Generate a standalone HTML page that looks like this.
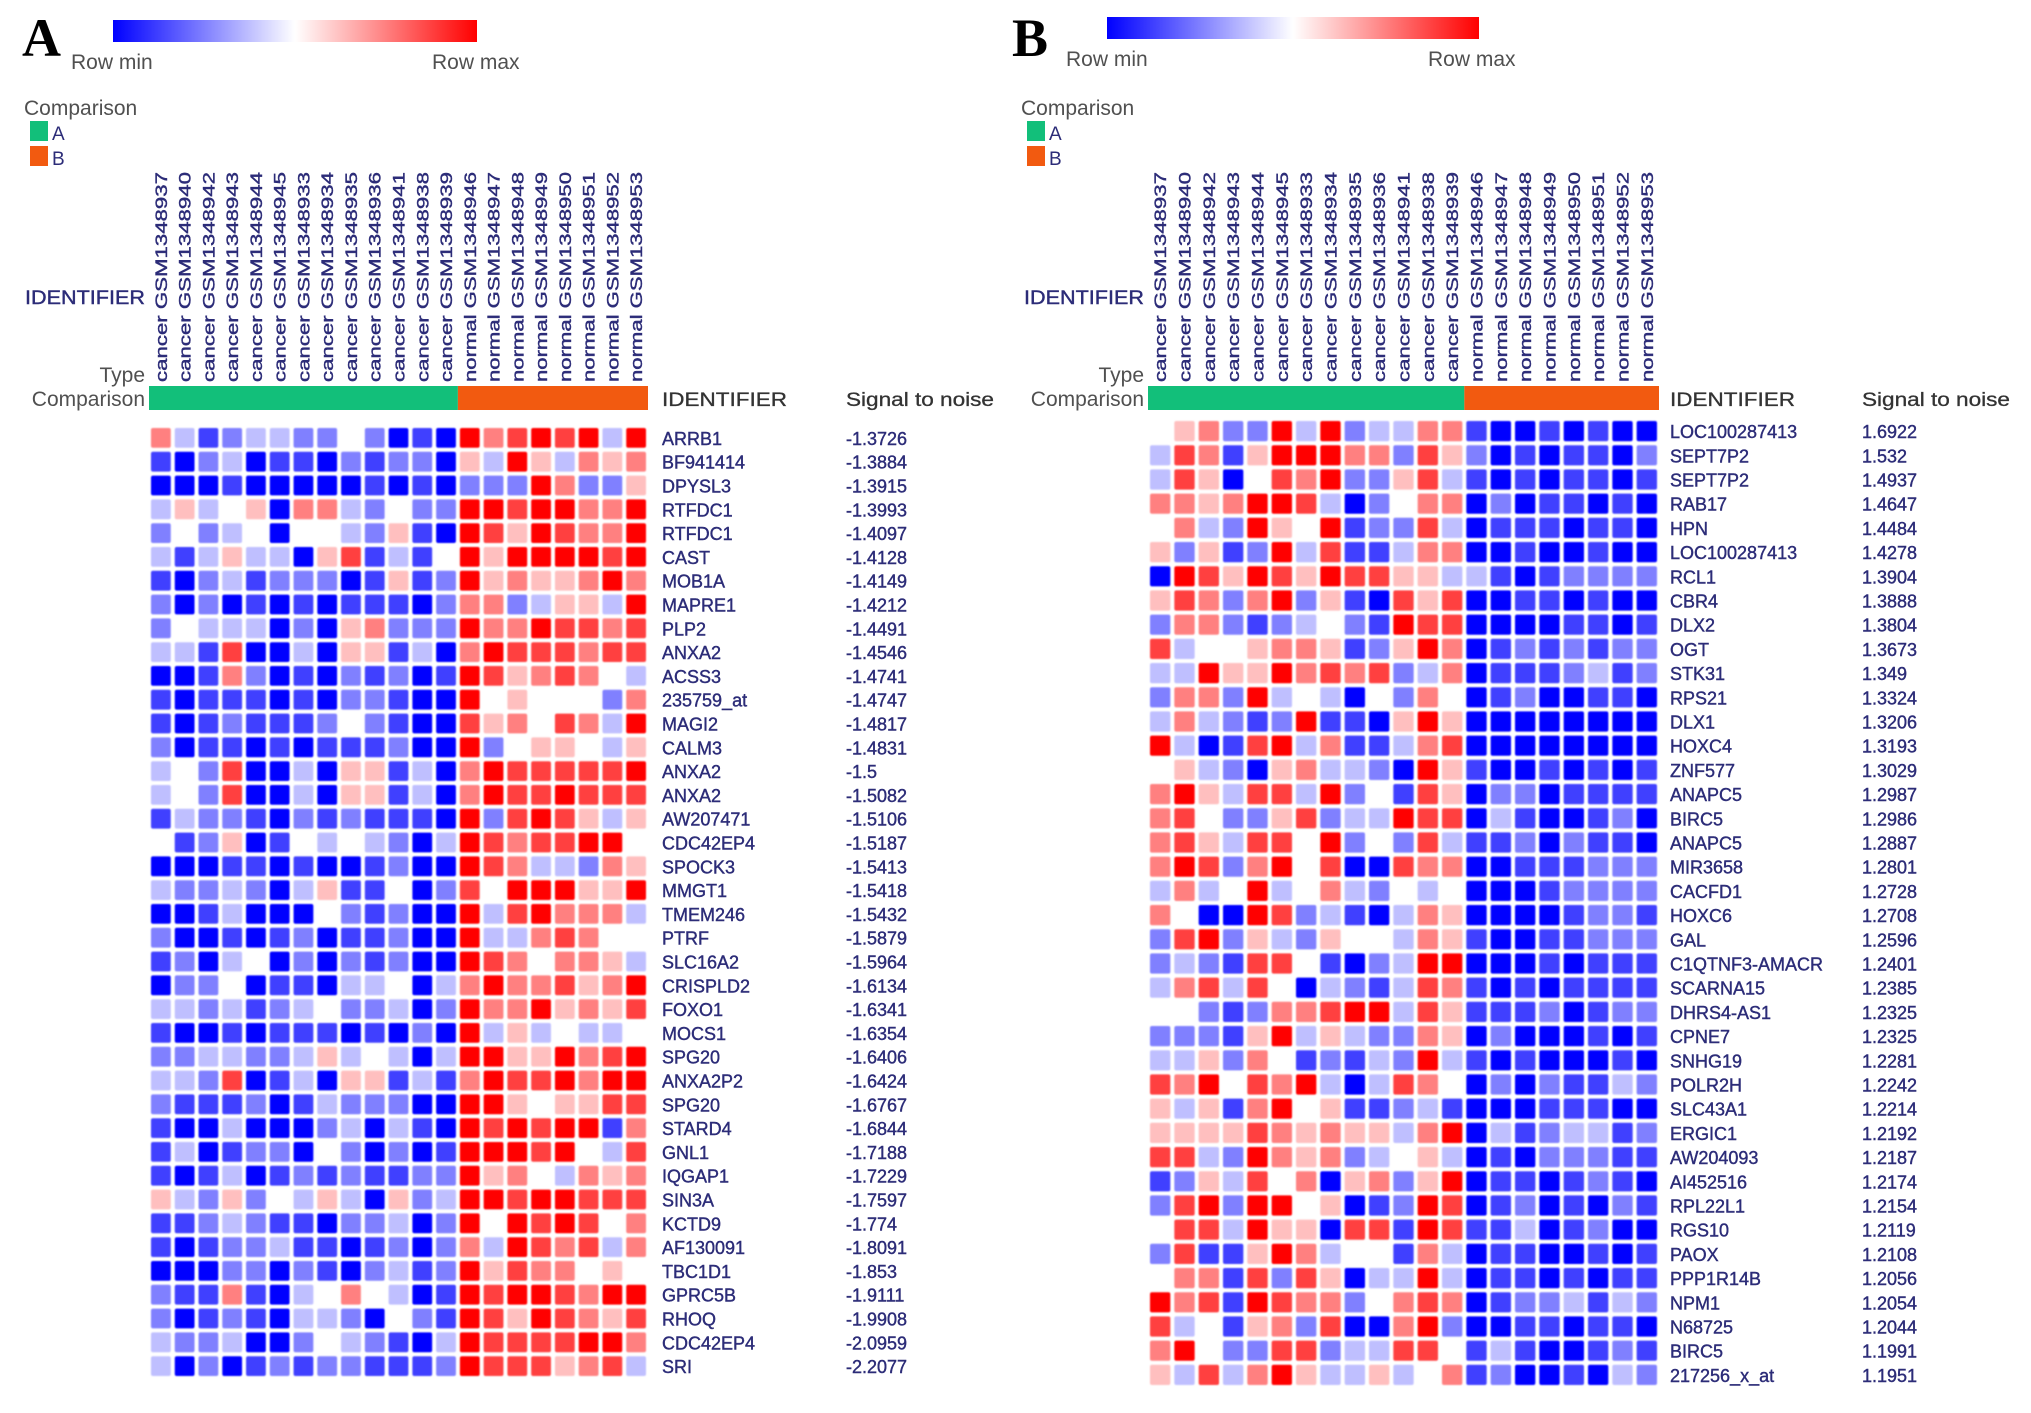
<!DOCTYPE html>
<html><head><meta charset="utf-8"><style>
html,body{margin:0;padding:0;background:#fff;}
svg{display:block;font-family:"Liberation Sans",sans-serif;}
</style></head><body>
<svg id="fig" width="2031" height="1413" viewBox="0 0 2031 1413" xmlns="http://www.w3.org/2000/svg">
<defs>
<linearGradient id="cg" x1="0" x2="1" y1="0" y2="0">
<stop offset="0" stop-color="#0000ff"/><stop offset="0.5" stop-color="#ffffff"/><stop offset="1" stop-color="#ff0000"/>
</linearGradient>
<filter id="soft" x="-5%" y="-5%" width="110%" height="110%"><feGaussianBlur stdDeviation="0.8"/></filter>
</defs>
<rect width="2031" height="1413" fill="#fff"/>
</svg>
<script>
const sampleTypes = ["cancer","cancer","cancer","cancer","cancer","cancer","cancer","cancer","cancer","cancer","cancer","cancer","cancer","normal","normal","normal","normal","normal","normal","normal","normal"];
const sampleIds = ["GSM1348937","GSM1348940","GSM1348942","GSM1348943","GSM1348944","GSM1348945","GSM1348933","GSM1348934","GSM1348935","GSM1348936","GSM1348941","GSM1348938","GSM1348939","GSM1348946","GSM1348947","GSM1348948","GSM1348949","GSM1348950","GSM1348951","GSM1348952","GSM1348953"];

const aGenes = ["ARRB1","BF941414","DPYSL3","RTFDC1","RTFDC1","CAST","MOB1A","MAPRE1","PLP2","ANXA2","ACSS3","235759_at","MAGI2","CALM3","ANXA2","ANXA2","AW207471","CDC42EP4","SPOCK3","MMGT1","TMEM246","PTRF","SLC16A2","CRISPLD2","FOXO1","MOCS1","SPG20","ANXA2P2","SPG20","STARD4","GNL1","IQGAP1","SIN3A","KCTD9","AF130091","TBC1D1","GPRC5B","RHOQ","CDC42EP4","SRI"];
const aScores = ["-1.3726","-1.3884","-1.3915","-1.3993","-1.4097","-1.4128","-1.4149","-1.4212","-1.4491","-1.4546","-1.4741","-1.4747","-1.4817","-1.4831","-1.5","-1.5082","-1.5106","-1.5187","-1.5413","-1.5418","-1.5432","-1.5879","-1.5964","-1.6134","-1.6341","-1.6354","-1.6406","-1.6424","-1.6767","-1.6844","-1.7188","-1.7229","-1.7597","-1.774","-1.8091","-1.853","-1.9111","-1.9908","-2.0959","-2.2077"];
const aValues = [
[2,-1,-3,-2,-1,-1,-2,-2,0,-2,-4,-3,-4,4,2,3,4,3,4,-1,4],
[-3,-4,-2,-1,-4,-3,-3,-4,-2,-3,-2,-2,-4,1,-1,4,1,-1,2,1,2],
[-4,-4,-4,-3,-4,-4,-4,-4,-4,-3,-4,-3,-4,-2,-2,-2,4,2,-2,-2,1],
[-1,1,-1,0,1,-4,2,2,-1,-2,0,-2,-2,4,4,3,4,4,2,2,4],
[-2,0,-2,-1,0,-4,0,0,-1,-2,1,-3,-4,4,3,1,4,3,2,2,4],
[-1,-3,-1,1,-1,-1,-4,1,3,-3,-1,-3,0,4,1,4,4,4,4,3,4],
[-3,-4,-2,-1,-3,-2,-2,-2,-4,-3,1,-3,-2,4,1,2,1,1,2,4,2],
[-2,-4,-2,-4,-3,-4,-3,-4,-3,-3,-3,-4,-2,2,2,-2,-1,1,1,-1,4],
[-2,0,-1,-1,-1,-4,-2,-4,1,2,-2,-2,-2,4,2,2,4,3,3,2,3],
[-1,-1,-3,3,-4,-4,-1,-4,1,1,-3,-1,-4,2,4,3,3,3,2,3,3],
[-4,-4,-3,2,-2,-4,-3,-4,-2,-3,-2,-4,-3,4,3,1,2,3,2,0,-1],
[-3,-4,-3,-3,-3,-4,-3,-4,-2,-2,-3,-4,-4,4,0,1,0,0,0,-2,2],
[-3,-4,-3,-2,-3,-3,-3,-2,0,-2,-3,-4,-4,3,1,2,0,3,2,-1,4],
[-2,-4,-3,-3,-4,-3,-4,-3,-3,-3,-2,-4,-4,4,-2,0,1,1,0,-1,1],
[-1,0,-2,3,-4,-4,-1,-4,1,1,-3,-1,-4,2,4,3,3,3,3,3,4],
[-1,0,-2,3,-4,-4,-1,-4,1,1,-3,-1,-4,2,4,3,3,4,3,3,3],
[-3,-1,-2,-2,-3,-4,-2,-3,-2,-3,-3,-3,-4,4,-2,3,4,3,1,-1,1],
[0,-3,-2,1,-4,-3,0,-1,0,-1,-2,-4,-1,4,3,2,3,3,4,4,0],
[-4,-4,-4,-3,-3,-4,-3,-4,-4,-3,-2,-4,-4,4,3,2,-1,-1,-2,2,1],
[-1,-2,-2,-1,-2,-4,-1,1,-3,-3,0,-4,-2,3,0,4,4,4,1,1,4],
[-4,-4,-3,-1,-4,-4,-4,0,-2,-3,-2,-4,-4,4,-1,3,4,2,2,2,-1],
[-2,-4,-4,-3,-4,-3,-2,-4,-3,-3,-2,-4,-4,4,-1,-1,2,3,2,0,0],
[-3,-2,-4,-1,0,-4,-2,-4,-2,-3,-2,-4,-4,4,3,2,0,2,2,1,-1],
[-4,-2,-2,0,-4,-3,-3,-4,-1,-1,0,-4,-1,2,4,2,2,3,1,2,4],
[-1,-1,-2,-1,-3,-2,-1,0,-2,-2,-1,-4,-2,4,2,2,4,1,2,1,3],
[-3,-4,-4,-3,-4,-3,-3,-3,-4,-3,-4,-2,-4,4,-1,1,-1,0,-1,-1,0],
[-2,-2,-1,-1,-2,-2,-1,1,-1,0,-1,-4,-1,4,4,1,1,4,2,3,4],
[-1,-1,-2,3,-4,-3,-1,-4,1,1,-3,-1,-3,2,4,3,3,4,2,4,4],
[-2,-3,-3,-3,-2,-4,-3,-1,-2,-2,-2,-4,-4,4,4,1,0,1,1,3,3],
[-3,-4,-4,-1,-4,-4,-4,-2,-1,-4,-1,-3,-4,4,3,4,3,4,4,-3,2],
[-3,-1,-4,-3,-2,-2,-4,0,-2,-4,-2,-4,-3,4,4,4,3,4,0,-1,3],
[-3,-4,-3,-1,-4,-3,-2,-3,-2,-3,-3,-2,-2,4,1,2,0,-1,2,1,2],
[1,-1,-2,1,-2,0,-1,1,-1,-4,1,-2,-1,4,4,3,4,4,3,3,3],
[-3,-3,-2,-1,-2,-3,-3,-4,-2,-2,-1,-4,-2,4,0,4,3,4,3,0,2],
[-3,-4,-3,-2,-2,-1,-3,-3,-4,-3,-2,-4,-2,2,-1,4,3,2,3,-1,2],
[-4,-4,-4,-2,-2,-4,-2,-3,-4,-2,-1,-3,-2,4,1,3,2,2,0,1,0],
[-2,-3,-3,2,-3,-4,-1,0,2,0,-1,-4,-3,4,3,4,4,3,2,4,4],
[-2,-4,-3,-2,-3,-4,-1,-1,-2,-4,0,-2,-3,4,3,1,4,3,2,1,3],
[-1,-2,-2,-1,-4,-4,-2,0,-1,-2,-3,-4,-1,4,3,3,3,3,4,4,2],
[-1,-4,-2,-4,-3,-2,-3,-2,-2,-3,-3,-3,-2,4,3,3,3,1,2,3,-1]
];

const bGenes = ["LOC100287413","SEPT7P2","SEPT7P2","RAB17","HPN","LOC100287413","RCL1","CBR4","DLX2","OGT","STK31","RPS21","DLX1","HOXC4","ZNF577","ANAPC5","BIRC5","ANAPC5","MIR3658","CACFD1","HOXC6","GAL","C1QTNF3-AMACR","SCARNA15","DHRS4-AS1","CPNE7","SNHG19","POLR2H","SLC43A1","ERGIC1","AW204093","AI452516","RPL22L1","RGS10","PAOX","PPP1R14B","NPM1","N68725","BIRC5","217256_x_at"];
const bScores = ["1.6922","1.532","1.4937","1.4647","1.4484","1.4278","1.3904","1.3888","1.3804","1.3673","1.349","1.3324","1.3206","1.3193","1.3029","1.2987","1.2986","1.2887","1.2801","1.2728","1.2708","1.2596","1.2401","1.2385","1.2325","1.2325","1.2281","1.2242","1.2214","1.2192","1.2187","1.2174","1.2154","1.2119","1.2108","1.2056","1.2054","1.2044","1.1991","1.1951"];
const bValues = [
[0,1,2,-2,-2,4,-1,4,-2,-1,-1,2,2,-3,-4,-4,-3,-4,-3,-4,-4],
[-1,3,2,-3,1,4,4,4,2,2,-2,3,1,-2,-4,-3,-4,-3,-3,-4,-2],
[-1,3,1,-4,0,3,2,4,-2,-2,1,3,-1,-3,-4,-3,-4,-3,-3,-4,-3],
[2,2,1,2,4,4,3,-1,-4,-2,0,2,2,-4,-2,-4,-3,-3,-4,-3,-4],
[0,2,-1,-2,4,1,0,4,-3,-2,-2,3,-1,-4,-3,-3,-3,-4,-3,-3,-4],
[1,-2,1,-3,-2,4,-1,3,-3,-3,-1,2,2,-4,-4,-3,-4,-4,-3,-4,-4],
[-4,4,3,1,4,3,1,4,3,3,1,1,-1,-1,-3,-4,-3,-2,-2,-2,-2],
[1,3,2,-2,2,4,-2,1,-3,-4,3,1,3,-4,-4,-3,-3,-4,-3,-4,-4],
[-2,2,2,-2,-3,-2,-1,0,-2,-3,4,3,3,-4,-4,-4,-4,-3,-3,-4,-3],
[3,-1,0,0,1,2,2,1,-3,-2,1,4,2,-4,-3,-2,-3,-2,-3,-2,-2],
[-1,-1,4,1,1,4,2,3,2,3,-2,-1,2,-4,-3,-3,-3,-2,-1,-3,-2],
[-2,2,2,-2,4,-1,0,-1,-4,0,-2,2,0,-4,-3,-2,-4,-4,-3,-3,-4],
[-1,2,-1,-2,-3,-2,4,-3,-3,-4,1,4,1,-4,-4,-4,-4,-4,-4,-4,-4],
[4,-1,-4,-3,3,4,-1,2,-3,-3,-1,2,3,-4,-4,-4,-4,-4,-4,-4,-4],
[0,1,-1,-2,-4,1,2,-1,-1,-2,-4,4,1,-3,-4,-4,-3,-4,-3,-4,-3],
[2,4,1,-1,3,3,-1,4,-2,0,-3,3,1,-4,-2,-2,-4,-3,-3,-3,-3],
[2,3,0,-2,-2,1,3,-2,-1,-1,4,3,3,-4,-1,-3,-4,-4,-3,-2,-4],
[2,3,1,-1,3,3,0,4,-2,0,-2,3,-1,-3,-3,-2,-4,-2,-3,-3,-4],
[2,4,3,-2,2,4,0,3,-4,-4,3,2,2,-4,-4,-3,-3,-3,-2,-2,-2],
[-1,2,-1,0,4,-1,0,2,-1,-2,0,-1,0,-4,-4,-4,-3,-2,-2,-2,-2],
[2,0,-4,-4,4,3,-2,-1,-3,-4,-1,2,1,-4,-4,-4,-4,-3,-2,-2,-3],
[-2,3,4,-2,1,-1,-2,1,0,0,-1,2,1,-3,-4,-4,-3,-3,-2,-2,-2],
[-2,-1,-2,-3,3,3,0,-3,-4,-2,-1,4,4,-4,-4,-4,-3,-4,-3,-3,-3],
[-1,2,3,-1,3,0,-4,-1,-2,-3,-1,3,2,-3,-4,-3,-4,-3,-3,-3,-3],
[0,0,-2,-3,-2,2,2,3,4,4,-1,3,1,-3,-3,-3,-2,-4,-3,-2,-2],
[-2,-2,-2,-3,1,4,-1,1,-1,-2,-2,2,1,-4,-2,-4,-4,-4,-3,-4,-3],
[-1,-1,1,-2,2,0,-3,-2,-3,-1,-2,4,-1,-3,-4,-3,-4,-4,-4,-3,-4],
[3,2,4,0,3,2,4,-1,-4,-1,3,2,0,-4,-2,-4,-2,-3,-3,-1,-2],
[1,-1,1,-3,2,4,0,1,-3,-3,-2,-1,-3,-4,-4,-4,-3,-3,-3,-4,-4],
[1,1,1,1,3,2,1,2,1,1,-1,2,4,-4,-1,-3,-2,-1,-1,-3,-2],
[3,3,-1,-2,4,2,1,2,-2,-1,0,1,-1,-4,-3,-4,-2,-2,-2,-3,-3],
[-3,-2,1,-1,3,0,2,-4,1,2,-2,1,4,-4,-3,-3,-4,-3,-2,-3,-4],
[-2,3,4,-2,4,4,0,1,-4,-3,-2,4,3,-4,-3,-2,-4,-3,-4,-2,-3],
[0,3,3,-1,4,1,1,-4,3,3,-3,4,3,-3,-3,-1,-4,-3,-2,-4,-4],
[-2,3,-3,-3,1,4,2,-1,0,0,-3,2,-1,-4,-3,-3,-4,-4,-3,-4,-3],
[0,2,2,-3,3,-2,3,1,-4,-1,-1,4,-1,-4,-3,-3,-4,-3,-4,-3,-3],
[4,2,3,-3,4,3,2,2,-2,0,2,3,2,-4,-3,-2,-2,-1,-3,-1,-2],
[3,-1,0,-3,1,2,-2,3,-4,-4,2,4,-2,-4,-4,-3,-3,-4,-3,-3,-4],
[2,4,0,-2,-2,3,3,-2,-1,-1,3,3,0,-3,-1,-3,-4,-4,-3,-2,-3],
[1,-1,3,-1,2,4,1,-1,-1,1,-1,0,2,-3,-2,-4,-4,-3,-4,-1,-2]
];

const NS = "http://www.w3.org/2000/svg";
const svg = document.getElementById("fig");
function mk(tag, attrs, parent, txt){
  const e = document.createElementNS(NS, tag);
  for (const k in attrs) e.setAttribute(k, attrs[k]);
  if (txt !== undefined) e.textContent = txt;
  (parent || svg).appendChild(e);
  return e;
}
function colorOf(v){
  const t = Math.min(1, Math.abs(v) / 4);
  const c = Math.round(255 * (1 - t));
  return v < 0 ? `rgb(${c},${c},255)` : `rgb(255,${c},${c})`;
}
const LBL = "#2c2c78", GRAY = "#505050";

function panel(P){
  const g = mk("g", {});
  
  
  const letter = mk("text", {x:P.letterX, y:56, "font-family":"Liberation Serif, serif", "font-weight":"bold", "font-size":54, fill:"#000"}, g, P.letter);
  
  
  const cb = mk("rect", {x:P.cbX, y:P.cbY, width:P.cbW, height:22, fill:"url(#cg)"}, g);
  
  
  const rmin = mk("text", {x:P.minX, y:P.cbY+49, "font-size":21, fill:GRAY}, g, "Row min");
  
  
  const rmax = mk("text", {x:P.maxX, y:P.cbY+49, "font-size":21, fill:GRAY}, g, "Row max");
  
  
  const lt = mk("text", {x:P.legX, y:115, "font-size":21, fill:GRAY}, g, "Comparison");
  
  
  const la = mk("rect", {x:P.legX+6, y:121, width:18, height:20, fill:"#12bf7a"}, g);
  
  
  const lat = mk("text", {x:P.legX+28, y:140, "font-size":19, fill:LBL}, g, "A");
  
  
  const lb = mk("rect", {x:P.legX+6, y:146, width:18, height:20, fill:"#f25a10"}, g);
  
  
  const lbt = mk("text", {x:P.legX+28, y:165, "font-size":19, fill:LBL}, g, "B");
  
  

  const n = sampleIds.length;
  const cw = P.w / n;
  const colX = i => P.x0 + i * cw;
  const rowY = r => P.y0 + r * P.rh;

  sampleIds.forEach((id, i) => {
    const cx = colX(i) + cw/2 + 6;
    const t = mk("text", {x:0, y:0, transform:`translate(${cx},382) rotate(-90)`, "font-size":17, fill:LBL, stroke:LBL, "stroke-width":0.4, textLength:210, lengthAdjust:"spacingAndGlyphs"}, g, sampleTypes[i] + " " + id);
    
    
  });
  const idl = mk("text", {x:P.x0-4, y:304, "text-anchor":"end", "font-size":19, fill:LBL, stroke:LBL, "stroke-width":0.4, textLength:120, lengthAdjust:"spacingAndGlyphs"}, g, "IDENTIFIER");
  
  
  const ty = mk("text", {x:P.x0-4, y:382, "text-anchor":"end", "font-size":21, fill:GRAY}, g, "Type");
  
  
  const ct = mk("text", {x:P.x0-4, y:406, "text-anchor":"end", "font-size":21, fill:GRAY}, g, "Comparison");
  
  

  const nA = sampleTypes.filter(s => s === "cancer").length;
  const ga = mk("rect", {x:colX(0), y:386, width:nA*cw, height:24, fill:"#12bf7a"}, g);
  
  
  const gb = mk("rect", {x:colX(nA), y:386, width:(n-nA)*cw, height:24, fill:"#f25a10"}, g);
  
  
  const ih = mk("text", {x:P.geneX, y:406, "font-size":19, fill:"#333", stroke:"#333", "stroke-width":0.3, textLength:125, lengthAdjust:"spacingAndGlyphs"}, g, "IDENTIFIER");
  
  
  const sh = mk("text", {x:P.scoreX, y:406, "font-size":19, fill:"#333", stroke:"#333", "stroke-width":0.3, textLength:148, lengthAdjust:"spacingAndGlyphs"}, g, "Signal to noise");
  
  

  const cells = mk("g", {filter:"url(#soft)"}, g);
  
  
  P.values.forEach((row, r) => {
    row.forEach((v, c) => {
      const cell = mk("rect", {x:colX(c)+2, y:rowY(r)+2, width:cw-4, height:P.rh-4, rx:2, fill:colorOf(v)}, cells);
      
      
    });
    const gl = mk("text", {x:P.geneX, y:rowY(r)+P.rh/2+7, "font-size":18, fill:LBL, stroke:LBL, "stroke-width":0.4}, g, P.genes[r]);
    
    
    const sl = mk("text", {x:P.scoreX, y:rowY(r)+P.rh/2+7, "font-size":18, fill:LBL, stroke:LBL, "stroke-width":0.4}, g, P.scores[r]);
    
    
  });
}

panel({name:"panel-a", letter:"A", letterX:22, cbX:113, cbY:20, cbW:364, minX:71, maxX:432, legX:24,
  x0:149, w:499, y0:426, rh:23.8, geneX:662, scoreX:846, genes:aGenes, scores:aScores, values:aValues});
panel({name:"panel-b", letter:"B", letterX:1012, cbX:1107, cbY:17, cbW:372, minX:1066, maxX:1428, legX:1021,
  x0:1148, w:511, y0:419, rh:24.2, geneX:1670, scoreX:1862, genes:bGenes, scores:bScores, values:bValues});
</script>
</body></html>
